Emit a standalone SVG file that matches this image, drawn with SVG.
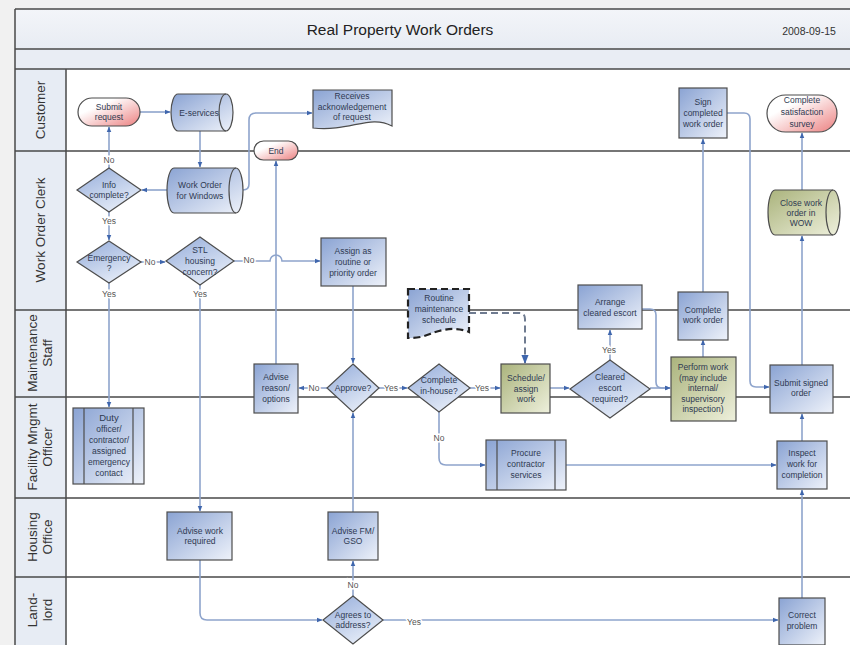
<svg xmlns="http://www.w3.org/2000/svg" width="850" height="645" viewBox="0 0 850 645">
<defs>
<linearGradient id="gBlue" x1="0" y1="0" x2="1" y2="1"><stop offset="0" stop-color="#8aa3d3"/><stop offset="1" stop-color="#eef2fa"/></linearGradient>
<linearGradient id="gDia" x1="0" y1="0" x2="0.6" y2="1"><stop offset="0" stop-color="#94acda"/><stop offset="1" stop-color="#e4ebf7"/></linearGradient>
<linearGradient id="gGreen" x1="0" y1="0" x2="1" y2="1"><stop offset="0" stop-color="#aab37c"/><stop offset="1" stop-color="#eef0dc"/></linearGradient>
<linearGradient id="gPink" x1="0" y1="0" x2="1" y2="1"><stop offset="0.3" stop-color="#ffffff"/><stop offset="1" stop-color="#ec8080"/></linearGradient>
<linearGradient id="gTitle" x1="0" y1="0" x2="0" y2="1"><stop offset="0" stop-color="#f3f5f9"/><stop offset="1" stop-color="#e8ecf3"/></linearGradient>
<marker id="ah" viewBox="0 0 10 10" refX="9" refY="5" markerWidth="6" markerHeight="6" markerUnits="userSpaceOnUse" orient="auto"><path d="M0,1 L10,5 L0,9 Z" fill="#3f66ad"/></marker>
<marker id="ahd" viewBox="0 0 10 10" refX="9" refY="5" markerWidth="9" markerHeight="9" markerUnits="userSpaceOnUse" orient="auto"><path d="M0,1 L10,5 L0,9 Z" fill="#3f66ad"/></marker>
</defs>
<style>
.lane{stroke:#4a4a4a;stroke-width:1.5;fill:none}
.s{stroke:#4d4d4d;stroke-width:1.2}
.b{fill:url(#gBlue)}
.d{fill:url(#gDia)}
.g{fill:url(#gGreen)}
.p{fill:url(#gPink)}
.t{font-family:"Liberation Sans",Arial,sans-serif;font-size:8.5px;fill:#2f3a52;text-anchor:middle}
.lt{font-family:"Liberation Sans",Arial,sans-serif;font-size:13.5px;fill:#333;text-anchor:middle}
.lbl{font-family:"Liberation Sans",Arial,sans-serif;font-size:8.5px;fill:#555;text-anchor:middle;stroke:#fff;stroke-width:3;paint-order:stroke}
.c{fill:none;stroke:#8ea4cc;stroke-width:1.6;marker-end:url(#ah)}
.dash{fill:none;stroke:#6f7b90;stroke-width:2;stroke-dasharray:7 4;marker-end:url(#ahd)}
</style>

<g id="frame">
<rect x="0" y="0" width="850" height="645" fill="#f1f1f1"/>
<rect x="15" y="9" width="840" height="640" fill="#ffffff"/>
<rect x="15" y="9" width="840" height="40" fill="url(#gTitle)"/>
<rect x="15" y="49" width="840" height="20" fill="#e9edf4"/>
<rect x="15" y="69" width="51" height="580" fill="#e7ecf4"/>
<path class="lane" d="M15,9 H850 M15,49 H850 M15,69 H850 M15,151 H850 M15,310 H850 M15,397 H850 M15,498 H850 M15,577 H850 M15,9 V645 M66,69 V645"/>
<text x="400" y="35" font-family="'Liberation Sans',Arial,sans-serif" font-size="15.5" fill="#222" text-anchor="middle">Real Property Work Orders</text>
<text x="809" y="35" font-family="'Liberation Sans',Arial,sans-serif" font-size="10.5" fill="#333" text-anchor="middle">2008-09-15</text>
</g>

<g id="lanes">
<text class="lt" transform="translate(40,110) rotate(-90)" y="5">Customer</text>
<text class="lt" transform="translate(40,230) rotate(-90)" y="5">Work Order Clerk</text>
<text class="lt" transform="translate(40,353) rotate(-90)"><tspan x="0" y="-3">Maintenance</tspan><tspan x="0" y="12">Staff</tspan></text>
<text class="lt" transform="translate(40,447) rotate(-90)"><tspan x="0" y="-3">Facility Mngmt</tspan><tspan x="0" y="12">Officer</tspan></text>
<text class="lt" transform="translate(40,537) rotate(-90)"><tspan x="0" y="-3">Housing</tspan><tspan x="0" y="12">Office</tspan></text>
<text class="lt" transform="translate(40,610) rotate(-90)"><tspan x="0" y="-3">Land-</tspan><tspan x="0" y="12">lord</tspan></text>
</g>

<g id="connectors">
<path class="c" d="M140,112 H170"/>
<path class="c" d="M200,131 V167"/>
<path class="c" d="M167,190 H142"/>
<path class="c" d="M109,168 V127"/>
<path class="c" d="M109,212 V240"/>
<path class="c" d="M141,262 H165"/>
<path class="c" d="M234,261 H270 A6,6 0 0 1 282,261 H320"/>
<path class="c" d="M109,283 V407"/>
<path class="c" d="M200,285 V511"/>
<path class="c" d="M243,190 Q249,190 249,184 V120 Q249,113 256,113 H312"/>
<path class="c" d="M276,364 V161"/>
<path class="c" d="M353,286 V363"/>
<path class="c" d="M327,388 H299"/>
<path class="c" d="M379,388 H407"/>
<path class="c" d="M470,388 H500"/>
<path class="c" d="M439,412 V458 Q439,465 446,465 H485"/>
<path class="dash" d="M469,313 H519 Q525,313 525,319 V363"/>
<path class="c" d="M550,388 H569"/>
<path class="c" d="M610,360 V330"/>
<path class="c" d="M642,309 H650 Q656,309 656,315 V382 Q656,388 662,388 H670"/>
<path class="c" d="M650,388 H670"/>
<path class="c" d="M703,357 V340"/>
<path class="c" d="M703,292 V139"/>
<path class="c" d="M727,113 H744 Q750,113 750,119 V381 Q750,387 756,387 H769"/>
<path class="c" d="M802,365 V236"/>
<path class="c" d="M802,190 V133"/>
<path class="c" d="M802,441 V414"/>
<path class="c" d="M566,465 H776"/>
<path class="c" d="M200,560 V613 Q200,620 207,620 H322"/>
<path class="c" d="M353,596 V561"/>
<path class="c" d="M353,512 V413"/>
<path class="c" d="M383,620 H778"/>
<path class="c" d="M802,598 V490"/>
<text class="lbl" x="109" y="163">No</text>
<text class="lbl" x="109" y="224">Yes</text>
<text class="lbl" x="150" y="265">No</text>
<text class="lbl" x="249" y="263">No</text>
<text class="lbl" x="109" y="297">Yes</text>
<text class="lbl" x="200" y="297">Yes</text>
<text class="lbl" x="314" y="391">No</text>
<text class="lbl" x="391" y="391">Yes</text>
<text class="lbl" x="482" y="391">Yes</text>
<text class="lbl" x="439" y="441">No</text>
<text class="lbl" x="609" y="353">Yes</text>
<text class="lbl" x="353" y="588">No</text>
<text class="lbl" x="414" y="625">Yes</text>
</g>

<g id="submit-request"><rect class="s p" x="78" y="98" width="62" height="28" rx="14"/><text class="t"><tspan x="109" y="110">Submit</tspan><tspan x="109" y="120">request</tspan></text></g>
<g id="e-services"><path class="s b" d="M178,94 H226 A7,18.5 0 0 1 226,131 H178 A7,18.5 0 0 1 178,94 Z"/><path class="s" fill="none" d="M226,94 A7,18.5 0 0 0 226,131"/><text class="t" x="199" y="115.5">E-services</text></g>
<g id="receives-ack"><path class="s b" d="M313,90 H392 V126 C370,114 350,132 313,128 Z"/><text class="t"><tspan x="352" y="99">Receives</tspan><tspan x="352" y="109.5">acknowledgement</tspan><tspan x="352" y="120">of request</tspan></text></g>
<g id="end"><rect class="s p" x="254" y="141" width="44" height="19" rx="9.5"/><text class="t" x="276" y="153.5">End</text></g>
<g id="sign-completed"><rect class="s b" x="679" y="88" width="48" height="50"/><text class="t"><tspan x="703" y="105">Sign</tspan><tspan x="703" y="116">completed</tspan><tspan x="703" y="127">work order</tspan></text></g>
<g id="satisfaction-survey"><rect class="s p" x="767" y="95" width="70" height="37" rx="18.5"/><text class="t"><tspan x="802" y="103">Complete</tspan><tspan x="802" y="115">satisfaction</tspan><tspan x="802" y="127">survey</tspan></text></g>

<g id="info-complete"><polygon class="s d" points="109,168 141,190 109,212 77,190"/><text class="t"><tspan x="109" y="188">Info</tspan><tspan x="109" y="198">complete?</tspan></text></g>
<g id="wow"><path class="s b" d="M174,168 H236 A7,22.5 0 0 1 236,213 H174 A7,22.5 0 0 1 174,168 Z"/><path class="s" fill="none" d="M236,168 A7,22.5 0 0 0 236,213"/><text class="t"><tspan x="200" y="188">Work Order</tspan><tspan x="200" y="199">for Windows</tspan></text></g>
<g id="emergency"><polygon class="s d" points="109,241 141,262 109,283 77,262"/><text class="t"><tspan x="109" y="261">Emergency</tspan><tspan x="109" y="271">?</tspan></text></g>
<g id="stl-housing"><polygon class="s d" points="200,237 234,261 200,285 166,261"/><text class="t"><tspan x="200" y="253">STL</tspan><tspan x="200" y="264">housing</tspan><tspan x="200" y="275">concern?</tspan></text></g>
<g id="assign"><rect class="s b" x="321" y="238" width="65" height="48"/><text class="t"><tspan x="353" y="254">Assign as</tspan><tspan x="353" y="265">routine or</tspan><tspan x="353" y="276">priority order</tspan></text></g>
<g id="close-wow"><path class="s g" d="M775,190 H833 A7,22.5 0 0 1 833,235 H775 A7,22.5 0 0 1 775,190 Z"/><path class="s" fill="none" d="M833,190 A7,22.5 0 0 0 833,235"/><text class="t"><tspan x="801" y="205.5">Close work</tspan><tspan x="801" y="215.5">order in</tspan><tspan x="801" y="225.5">WOW</tspan></text></g>

<g id="routine-schedule"><path class="b" stroke="#222" stroke-width="2.2" stroke-dasharray="7 4" d="M408,289 H469 V332 C455,326 440,330 430,334 C420,338 414,338 408,338 Z"/><text class="t"><tspan x="439" y="301">Routine</tspan><tspan x="439" y="312">maintenance</tspan><tspan x="439" y="323">schedule</tspan></text></g>
<g id="arrange-escort"><rect class="s b" x="578" y="285" width="64" height="44"/><text class="t"><tspan x="610" y="305">Arrange</tspan><tspan x="610" y="316">cleared escort</tspan></text></g>
<g id="complete-wo"><rect class="s b" x="678" y="292" width="50" height="48"/><text class="t"><tspan x="703" y="313">Complete</tspan><tspan x="703" y="323">work order</tspan></text></g>
<g id="advise-reason"><rect class="s b" x="254" y="364" width="44" height="49"/><text class="t"><tspan x="276" y="380">Advise</tspan><tspan x="276" y="391">reason/</tspan><tspan x="276" y="402">options</tspan></text></g>
<g id="approve"><polygon class="s d" points="353,364 379,388 353,412 327,388"/><text class="t" x="353" y="391">Approve?</text></g>
<g id="complete-inhouse"><polygon class="s d" points="439,364 470,388 439,412 408,388"/><text class="t"><tspan x="439" y="383">Complete</tspan><tspan x="439" y="394">in-house?</tspan></text></g>
<g id="schedule-assign"><rect class="s g" x="501" y="364" width="49" height="49"/><text class="t"><tspan x="526" y="381">Schedule/</tspan><tspan x="526" y="391.5">assign</tspan><tspan x="526" y="402">work</tspan></text></g>
<g id="cleared-escort"><polygon class="s d" points="610,360 650,389 610,418 570,389"/><text class="t"><tspan x="610" y="380">Cleared</tspan><tspan x="610" y="391">escort</tspan><tspan x="610" y="402">required?</tspan></text></g>
<g id="perform-work"><rect class="s g" x="671" y="357" width="65" height="64"/><text class="t"><tspan x="703" y="370">Perform work</tspan><tspan x="703" y="380.5">(may include</tspan><tspan x="703" y="391">internal/</tspan><tspan x="703" y="401.5">supervisory</tspan><tspan x="703" y="412">inspection)</tspan></text></g>
<g id="submit-signed"><rect class="s b" x="770" y="365" width="63" height="48"/><text class="t"><tspan x="801" y="386">Submit signed</tspan><tspan x="801" y="396">order</tspan></text></g>

<g id="duty-officer"><rect class="s b" x="73" y="408" width="71" height="76"/><path class="s" d="M84,408 V484 M133,408 V484"/><text class="t"><tspan x="109" y="421" font-size="9.5">Duty</tspan><tspan x="109" y="432">officer/</tspan><tspan x="109" y="443">contractor/</tspan><tspan x="109" y="454">assigned</tspan><tspan x="109" y="465">emergency</tspan><tspan x="109" y="476">contact</tspan></text></g>
<g id="procure"><rect class="s b" x="486" y="440" width="80" height="50"/><path class="s" d="M497,440 V490 M555,440 V490"/><text class="t"><tspan x="526" y="456">Procure</tspan><tspan x="526" y="467">contractor</tspan><tspan x="526" y="478">services</tspan></text></g>
<g id="inspect"><rect class="s b" x="777" y="441" width="50" height="48"/><text class="t"><tspan x="802" y="456">Inspect</tspan><tspan x="802" y="467">work for</tspan><tspan x="802" y="478">completion</tspan></text></g>

<g id="advise-work"><rect class="s b" x="167" y="512" width="65" height="48"/><text class="t"><tspan x="200" y="534">Advise work</tspan><tspan x="200" y="544">required</tspan></text></g>
<g id="advise-fm"><rect class="s b" x="328" y="512" width="50" height="48"/><text class="t"><tspan x="353" y="534">Advise FM/</tspan><tspan x="353" y="544">GSO</tspan></text></g>

<g id="agrees"><polygon class="s d" points="353,596 383,620 353,644 323,620"/><text class="t"><tspan x="353" y="618">Agrees to</tspan><tspan x="353" y="628">address?</tspan></text></g>
<g id="correct-problem"><rect class="s b" x="779" y="598" width="46" height="47"/><text class="t"><tspan x="802" y="618">Correct</tspan><tspan x="802" y="629">problem</tspan></text></g>
</svg>
